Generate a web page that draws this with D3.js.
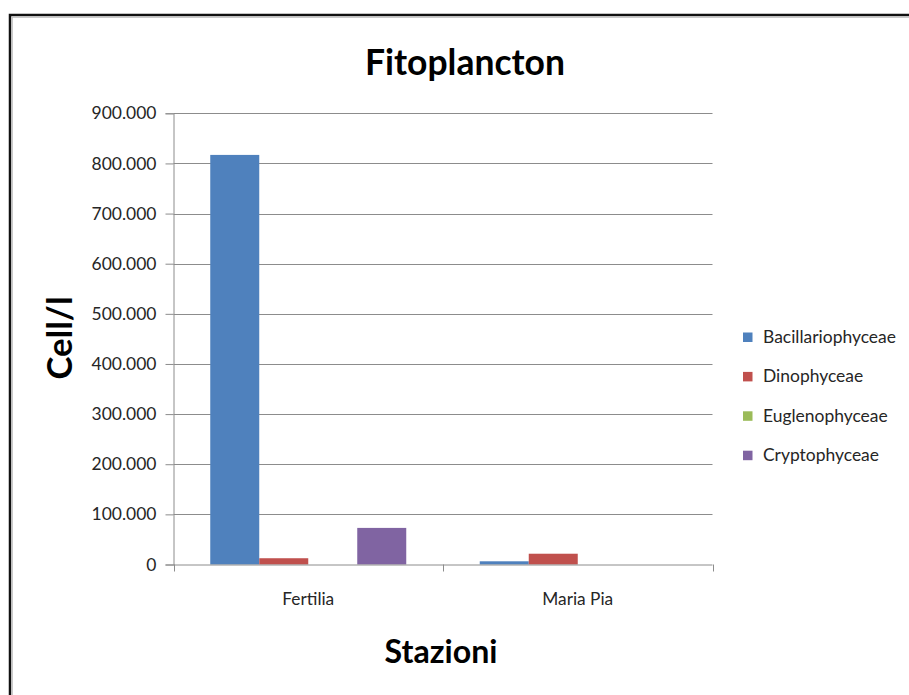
<!DOCTYPE html>
<html>
<head>
<meta charset="utf-8">
<script src="https://cdn.jsdelivr.net/npm/d3@7/dist/d3.min.js"></script>
<style>
  html, body { margin: 0; padding: 0; background: #fff; }
  svg { display: block; }
  text { font-family: Lato, "Open Sans", "Noto Sans", sans-serif; }
</style>
</head>
<body>
<svg id="chart" width="909" height="695"></svg>
<script>
// Stations and phytoplankton classes (cells per litre)
const categories = ["Fertilia", "Maria Pia"];
const seriesNames = ["Bacillariophyceae", "Dinophyceae", "Euglenophyceae", "Cryptophyceae"];
const bacillariophyceae = [817000, 6400];
const dinophyceae = [12500, 21500];
const euglenophyceae = [0, 0];
const cryptophyceae = [73000, 0];
const yTicks = [0, 100000, 200000, 300000, 400000, 500000, 600000, 700000, 800000, 900000];
const colors = ["#4F81BD", "#C0504D", "#9BBB59", "#8064A2"];

const seriesValues = [bacillariophyceae, dinophyceae, euglenophyceae, cryptophyceae];
const rows = categories.map((c, i) => ({
  category: c,
  values: seriesNames.map((s, j) => ({ series: s, value: seriesValues[j][i], color: colors[j] }))
}));

const svg = d3.select("#chart");

// Italian number style: dot as thousands separator
const itLocale = d3.formatLocale({ decimal: ",", thousands: ".", grouping: [3], currency: ["€", ""] });
const fmt = itLocale.format(",");

// Size a text element so its rendered width equals the given width
function fitWidth(sel, width) {
  sel.each(function () {
    const base = parseFloat(this.getAttribute("font-size"));
    const w = this.getComputedTextLength();
    if (w > 0) this.setAttribute("font-size", (base * width / w).toFixed(2));
  });
  return sel;
}

// Outer frame: dark edge with a light grey inner line
svg.append("rect")
  .attr("x", 10).attr("y", 15).attr("width", 940).attr("height", 720)
  .attr("fill", "#fff").attr("stroke", "#111").attr("stroke-width", 2.5);
svg.append("rect")
  .attr("x", 12.2).attr("y", 17.2).attr("width", 940).attr("height", 720)
  .attr("fill", "none").attr("stroke", "#bdbdbd").attr("stroke-width", 1.2);

const plot = { left: 173.5, right: 712.5, top: 113.3, bottom: 564.5 };

const y = d3.scaleLinear().domain([0, 900000]).range([plot.bottom, plot.top]);
const x0 = d3.scaleBand().domain(categories).range([plot.left, plot.right]).paddingInner(0).paddingOuter(0);
const x1 = d3.scaleBand().domain(seriesNames).range([0, x0.bandwidth()]).paddingInner(0).paddingOuter(0.75);

// Horizontal gridlines
svg.append("g")
  .selectAll("line")
  .data(yTicks.filter(t => t > 0))
  .join("line")
  .attr("x1", plot.left).attr("x2", plot.right)
  .attr("y1", d => Math.round(y(d)) + 0.5).attr("y2", d => Math.round(y(d)) + 0.5)
  .attr("stroke", "#8c8c8c").attr("stroke-width", 1);

// Bars
svg.append("g")
  .selectAll("g")
  .data(rows)
  .join("g")
  .attr("transform", d => `translate(${x0(d.category)},0)`)
  .selectAll("rect")
  .data(d => d.values.filter(v => v.value > 0))
  .join("rect")
  .attr("x", d => x1(d.series))
  .attr("width", x1.bandwidth())
  .attr("y", d => y(d.value))
  .attr("height", d => y(0) - y(d.value))
  .attr("fill", d => d.color);

// Y axis
const yAxis = svg.append("g")
  .attr("transform", `translate(${plot.left},0)`)
  .call(d3.axisLeft(y).tickValues(yTicks).tickFormat(fmt).tickSize(8).tickPadding(9));
yAxis.select(".domain").attr("stroke", "#8c8c8c");
yAxis.selectAll(".tick line").attr("stroke", "#8c8c8c");
yAxis.selectAll(".tick text")
  .attr("fill", "#262626")
  .attr("font-size", 17)
  .attr("font-family", "Lato, 'Open Sans', sans-serif");
// scale tick labels so "900.000" spans about 65px
(function () {
  const sample = yAxis.selectAll(".tick text").filter(d => d === 900000).node();
  const w = sample.getComputedTextLength();
  const fs = 17 * 65 / w;
  yAxis.selectAll(".tick text").attr("font-size", fs.toFixed(2));
})();

// X axis with ticks between categories
const xAxisG = svg.append("g");
xAxisG.append("line")
  .attr("x1", plot.left).attr("x2", plot.right)
  .attr("y1", plot.bottom + 0.5).attr("y2", plot.bottom + 0.5)
  .attr("stroke", "#8c8c8c");
const boundaries = categories.map(c => x0(c)).concat([x0(categories[categories.length - 1]) + x0.bandwidth()]);
xAxisG.selectAll("line.tk")
  .data(boundaries)
  .join("line")
  .attr("class", "tk")
  .attr("x1", d => Math.round(d) + 0.5).attr("x2", d => Math.round(d) + 0.5)
  .attr("y1", plot.bottom).attr("y2", plot.bottom + 7)
  .attr("stroke", "#8c8c8c");
const catLabels = xAxisG.selectAll("text")
  .data(categories)
  .join("text")
  .attr("x", d => x0(d) + x0.bandwidth() / 2)
  .attr("y", 605)
  .attr("text-anchor", "middle")
  .attr("fill", "#262626")
  .attr("font-size", 17)
  .text(d => d);
// "Maria Pia" spans about 71px
(function () {
  const node = catLabels.filter(d => d === "Maria Pia").node();
  const fs = 17 * 71 / node.getComputedTextLength();
  catLabels.attr("font-size", fs.toFixed(2));
})();

// Titles
fitWidth(svg.append("text")
  .attr("x", 465).attr("y", 75)
  .attr("text-anchor", "middle")
  .attr("font-weight", "bold")
  .attr("font-size", 36)
  .attr("fill", "#000")
  .text("Fitoplancton"), 200);

fitWidth(svg.append("text")
  .attr("x", 441).attr("y", 663)
  .attr("text-anchor", "middle")
  .attr("font-weight", "bold")
  .attr("font-size", 36)
  .attr("fill", "#000")
  .text("Stazioni"), 113);

fitWidth(svg.append("text")
  .attr("transform", "translate(72,338) rotate(-90)")
  .attr("text-anchor", "middle")
  .attr("font-weight", "bold")
  .attr("font-size", 36)
  .attr("fill", "#000")
  .text("Cell/l"), 83);

// Legend
const legend = svg.append("g").attr("transform", "translate(743,337)");
const items = legend.selectAll("g")
  .data(seriesNames.map((s, i) => ({ name: s, color: colors[i] })))
  .join("g")
  .attr("transform", (d, i) => `translate(0,${i * 39.4})`);
items.append("rect")
  .attr("x", 0).attr("y", -4.5)
  .attr("width", 9.5).attr("height", 9.5)
  .attr("fill", d => d.color);
const legTexts = items.append("text")
  .attr("x", 20).attr("y", 6)
  .attr("fill", "#262626")
  .attr("font-size", 17)
  .text(d => d.name);
(function () {
  const node = legTexts.filter(d => d.name === "Bacillariophyceae").node();
  const fs = 17 * 133 / node.getComputedTextLength();
  legTexts.attr("font-size", fs.toFixed(2));
})();
</script>
</body>
</html>
